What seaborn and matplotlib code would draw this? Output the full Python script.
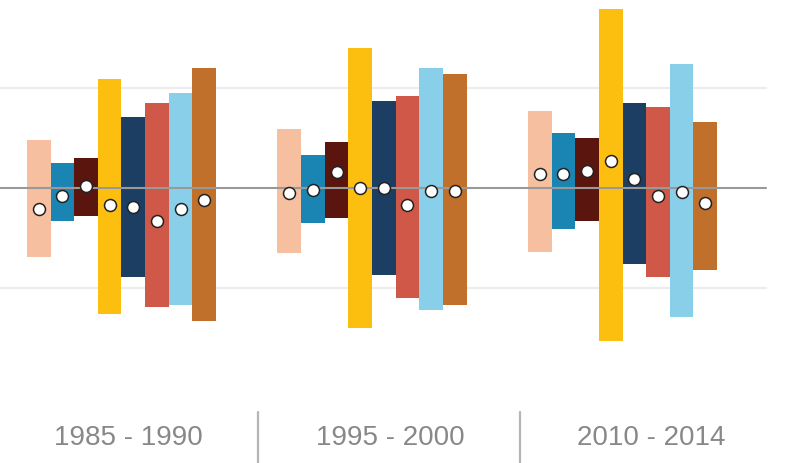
import matplotlib
matplotlib.use("Agg")
import matplotlib.pyplot as plt
import seaborn as sns
import pandas as pd

periods = ["1985 - 1990", "1995 - 2000", "2010 - 2014"]
series = ["S1", "S2", "S3", "S4", "S5", "S6", "S7", "S8"]
colors = ["#F5BFA0", "#1A85B3", "#5A160E", "#FDBF0F",
          "#1D3E63", "#CF5848", "#89CFEA", "#C0702A"]

# upper end of each bar, per period (order of series)
top_1985 = [0.48, 0.25, 0.30, 1.09, 0.71, 0.85, 0.95, 1.20]
top_1995 = [0.59, 0.33, 0.46, 1.40, 0.87, 0.92, 1.20, 1.14]
top_2010 = [0.77, 0.55, 0.50, 1.79, 0.85, 0.81, 1.24, 0.66]
# lower end of each bar
low_1985 = [-0.69, -0.33, -0.28, -1.26, -0.89, -1.19, -1.17, -1.33]
low_1995 = [-0.65, -0.35, -0.30, -1.40, -0.87, -1.10, -1.22, -1.17]
low_2010 = [-0.64, -0.41, -0.33, -1.53, -0.76, -0.89, -1.29, -0.82]
# dot values
mid_1985 = [-0.21, -0.08, 0.02, -0.17, -0.19, -0.33, -0.21, -0.12]
mid_1995 = [-0.05, -0.02, 0.16, 0.00, 0.00, -0.17, -0.03, -0.03]
mid_2010 = [0.14, 0.14, 0.17, 0.27, 0.09, -0.08, -0.04, -0.15]

rows = []
for p, t, l, m in zip(periods, [top_1985, top_1995, top_2010],
                      [low_1985, low_1995, low_2010],
                      [mid_1985, mid_1995, mid_2010]):
    for s, tv, lv, mv in zip(series, t, l, m):
        rows.append(dict(period=p, series=s, top=tv, low=lv, mid=mv))
df = pd.DataFrame(rows)

sns.set_theme(style="white")
plt.rcParams["font.family"] = ["Liberation Sans", "DejaVu Sans"]

fig = plt.figure(figsize=(8.0, 4.63), dpi=100)
ax = fig.add_axes([0, 0, 1, 1])

palette = dict(zip(series, colors))
bw = 0.755
sns.barplot(data=df, x="period", y="top", hue="series", order=periods,
            hue_order=series, palette=palette, saturation=1, width=bw,
            errorbar=None, linewidth=0, legend=False, ax=ax)
sns.barplot(data=df, x="period", y="low", hue="series", order=periods,
            hue_order=series, palette=palette, saturation=1, width=bw,
            errorbar=None, linewidth=0, legend=False, ax=ax)

# dots, dodged to the bar centres
n = len(series)
sns.pointplot(data=df, x="period", y="mid", hue="series", order=periods,
              hue_order=series, palette=palette, dodge=bw - bw / n,
              errorbar=None, linestyle="none", markers="o",
              markersize=8.6, markeredgewidth=1.1, legend=False, ax=ax)
for ln in ax.lines:
    ln.set_markerfacecolor("white")
    ln.set_markeredgecolor("#222222")
    ln.set_zorder(4)

# grid / zero line
ax.axhline(1, xmin=0, xmax=766 / 800, color="#ececec", lw=1.5, zorder=0)
ax.axhline(-1, xmin=0, xmax=766 / 800, color="#ececec", lw=1.5, zorder=0)
ax.axhline(0, xmin=0, xmax=766 / 800, color="#999999", lw=1.5, zorder=2)

# axes limits mapped to pixel layout
ax.set_xlim((0 - 121.5) / 250.5, (800 - 121.5) / 250.5)
ax.set_ylim(-2.75, 1.88)
ax.set_xticks([])
ax.set_yticks([])
ax.set_xlabel("")
ax.set_ylabel("")
for sp in ax.spines.values():
    sp.set_visible(False)

# separators
for xp in [258, 520]:
    ax.axvline((xp - 121.5) / 250.5, ymin=0, ymax=1 - 412 / 463,
               color="#b5b5b5", lw=1.6)

# period labels
for xp, lab in zip([128, 390, 651], periods):
    fig.text(xp / 800, 1 - 438 / 463, lab, ha="center", va="center",
             fontsize=20, color="#888888")

fig.savefig("out.png", dpi=100)
